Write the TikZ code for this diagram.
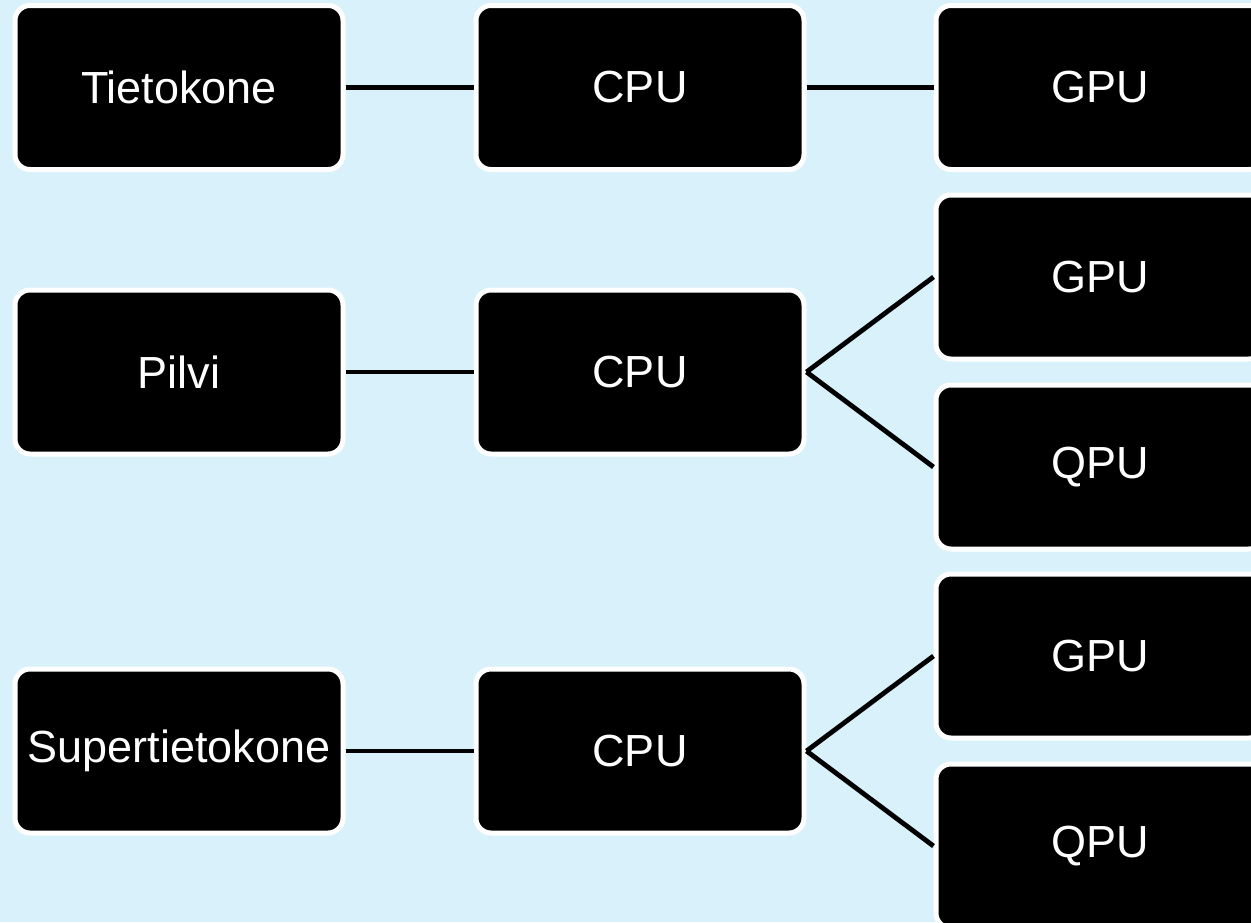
\documentclass[tikz,border=0pt]{standalone}
\usepackage{fontspec}
\setmainfont{Liberation Sans}
\definecolor{bgblue}{RGB}{217,241,250}
\begin{document}
\begin{tikzpicture}[x=1pt,y=-1pt,
  unit/.style={draw=white, fill=black, line width=5pt, rounded corners=15pt,
    minimum width=328pt, minimum height=164pt, text=white,
    font=\fontsize{45}{54}\selectfont, inner sep=0pt},
  link/.style={draw=black, line width=4.8pt}]
\clip (0,0) rectangle (1251,922);
\fill[bgblue] (0,0) rectangle (1251,922);
% row 1
\node[unit] (t)  at (179,87.5) {Tietokone};
\node[unit] (c1) at (640,87.5) {CPU};
\node[unit] (g1) at (1100,87.5) {GPU};
% row 2
\node[unit] (p)  at (179,372) {Pilvi};
\node[unit] (c2) at (640,372) {CPU};
\node[unit] (g2) at (1100,277) {GPU};
\node[unit] (q2) at (1100,467) {QPU};
% row 3
\node[unit] (s)  at (179,751) {Supertietokone};
\node[unit] (c3) at (640,751) {CPU};
\node[unit] (g3) at (1100,656) {GPU};
\node[unit] (q3) at (1100,846) {QPU};
% links
\draw[link] (t) -- (c1);
\draw[link] (c1) -- (g1);
\draw[link] (p) -- (c2);
\draw[link] (c2.east) -- (g2.west);
\draw[link] (c2.east) -- (q2.west);
\draw[link] (s) -- (c3);
\draw[link] (c3.east) -- (g3.west);
\draw[link] (c3.east) -- (q3.west);
\end{tikzpicture}
\end{document}
